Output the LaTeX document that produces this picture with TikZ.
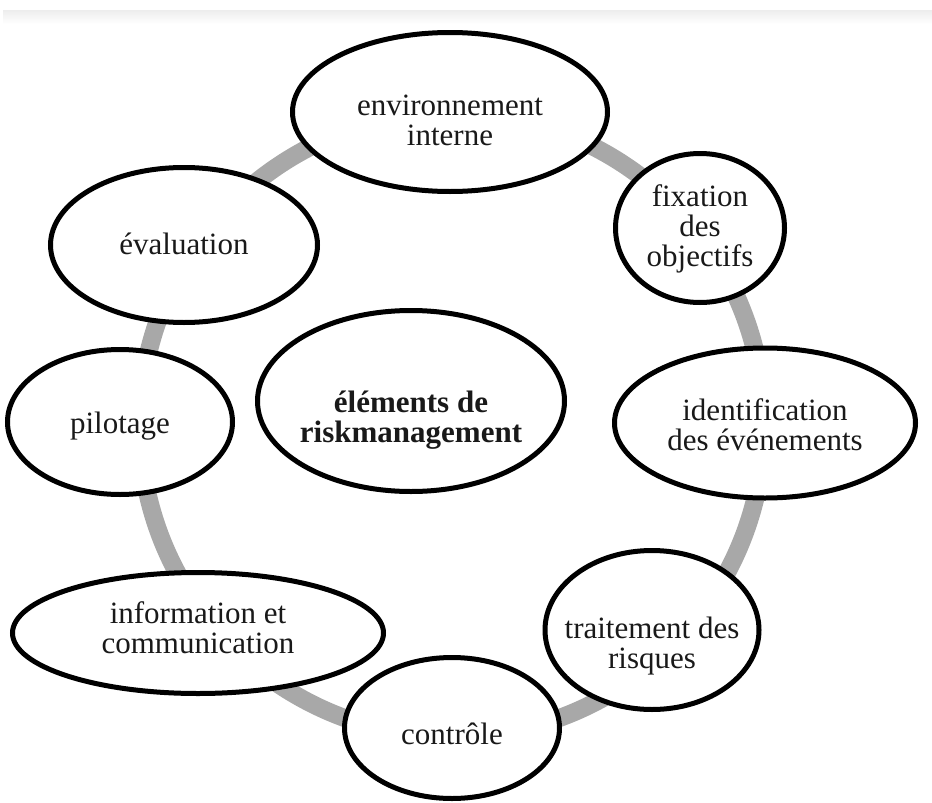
\documentclass[tikz,border=0pt]{standalone}
\usepackage{fontspec}
\setmainfont{Liberation Serif}
\usetikzlibrary{shapes.geometric}
\begin{document}
\begin{tikzpicture}[x=1pt,y=-1pt,
  bubble/.style={ellipse, draw=black, line width=5pt, fill=white, inner sep=0pt},
  caption/.style={align=center, inner sep=0pt, text=black!90,
    font=\fontsize{31}{30}\selectfont},
  ring/.style={line width=18pt, draw=black!34},
]
\useasboundingbox (0,0) rectangle (932,803);
% faint band along the top edge
\shade[top color=black!7, bottom color=white] (3,10) rectangle (932,24);
% grey ring linking the elements
\coordinate (hub) at (452,425);
\draw[ring] (hub) circle[radius=312];
% the eight elements around the ring
\node[bubble, minimum width=315pt, minimum height=159pt] (env) at (450,112) {};
\node[bubble, minimum width=169pt, minimum height=149pt] (fix) at (700,228) {};
\node[bubble, minimum width=301pt, minimum height=150pt] (ident) at (765,423) {};
\node[bubble, minimum width=214pt, minimum height=159pt] (trait) at (652,630) {};
\node[bubble, minimum width=215pt, minimum height=141pt] (ctrl) at (452,728) {};
\node[bubble, minimum width=371pt, minimum height=121pt] (info) at (198,633) {};
\node[bubble, minimum width=225pt, minimum height=145pt] (pilot) at (120,422) {};
\node[bubble, minimum width=267pt, minimum height=155pt] (eval) at (184,245) {};
% central element
\node[bubble, minimum width=307pt, minimum height=181pt] (core) at (411,401) {};
% captions
\node[caption] (env-t)   at ([yshift=-8pt]env.center)   {environnement\\interne};
\node[caption] (fix-t)   at ([yshift=-1pt]fix.center)   {fixation\\des\\objectifs};
\node[caption] (ident-t) at ([yshift=-2pt]ident.center) {identification\\des événements};
\node[caption] (trait-t) at ([yshift=-16pt]trait.center) {traitement des\\risques};
\node[caption] (ctrl-t)  at ([yshift=-6pt]ctrl.center)  {contrôle};
\node[caption] (info-t)  at ([yshift=5pt]info.center)   {information et\\communication};
\node[caption] (pilot-t) at ([yshift=-4pt]pilot.center) {pilotage};
\node[caption] (eval-t)  at ([yshift=1pt]eval.center)   {évaluation};
\node[caption, font=\fontsize{31}{30}\selectfont\bfseries] (core-t)
  at ([yshift=-19pt]core.center) {éléments de\\riskmanagement};
\end{tikzpicture}
\end{document}
